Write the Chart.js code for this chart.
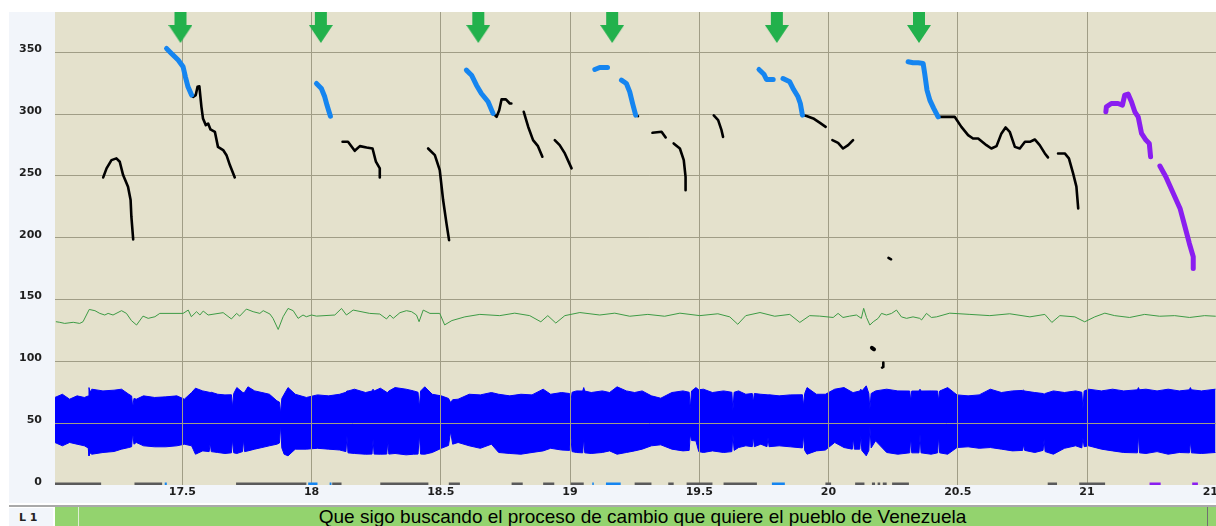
<!DOCTYPE html>
<html><head><meta charset="utf-8">
<script src="https://cdn.jsdelivr.net/npm/chart.js@4.4.1/dist/chart.umd.min.js"></script>
<style>
html,body{margin:0;padding:0;background:#fff;overflow:hidden;width:1216px;height:526px;position:relative;}
#panel{position:absolute;left:9px;top:12px;width:1207px;height:491px;background:#f2f5fa;}
#wrap{position:absolute;left:0;top:0;width:1250px;height:506px;}
#sep{position:absolute;left:9px;top:505px;width:1207px;height:2px;background:#a9a9a9;}
#tierlab{position:absolute;left:9px;top:508px;width:44px;height:18px;background:#f2f5fa;font:bold 11px "DejaVu Sans";color:#222;}
#tierlab span{position:absolute;left:10px;top:3px;}
#tier{position:absolute;left:55px;top:507px;width:1161px;height:19px;background:#93d36e;overflow:hidden;}
#tier .v1{position:absolute;left:23px;top:0;width:1px;height:100%;background:#dfeed5;}
#tier .v2{position:absolute;left:1152px;top:0;width:1px;height:100%;background:#707070;}
#tier .txt{position:absolute;left:23px;width:1129px;text-align:center;top:-1px;font:19px "Liberation Sans";line-height:22px;white-space:nowrap;color:#000;}
</style>
</head><body>
<div id="panel"></div>
<div id="wrap"><canvas id="c" width="1250" height="506"></canvas></div>
<div id="sep"></div>
<div id="tierlab"><span>L 1</span></div>
<div id="tier"><div class="v1"></div><div class="v2"></div><div class="txt">Que sigo buscando el proceso de cambio que quiere el pueblo de Venezuela</div></div>
<script>
// ---- axis ticks ----
const xTicks = [17.5,18,18.5,19,19.5,20,20.5,21,21.5];
const yTicks = [0,50,100,150,200,250,300,350];

// ---- arrows (marked syllables) ----
const arrowTimes = [17.493,18.036,18.645,19.163,19.800,20.350];
const arrowLevel = 369.7;

// ---- pitch contours [time, Hz] ----
const f0_a = [[17.194,248.8],[17.207,256.1],[17.226,262.8],[17.245,264.2],[17.258,261.5],[17.271,250.7],[17.290,241.3],[17.300,230.5],[17.303,217.0],[17.310,198.7]];
const f0_b_blue = [[17.439,353.1],[17.458,349.1],[17.484,343.7],[17.503,338.3],[17.512,330.2],[17.522,322.1],[17.536,315.4]];
const f0_b = [[17.536,315.4],[17.542,314.0],[17.552,315.4],[17.559,322.1],[17.566,322.5],[17.574,305.9],[17.580,296.5],[17.591,291.1],[17.600,292.4],[17.609,287.6],[17.626,285.7],[17.638,273.5],[17.658,270.9],[17.671,266.8],[17.684,258.8],[17.703,248.8]];
const f0_c_blue = [[18.019,324.8],[18.038,320.7],[18.051,314.0],[18.060,307.1],[18.073,298.3]];
const f0_d = [[18.120,277.6],[18.141,277.6],[18.167,270.3],[18.187,274.1],[18.213,273.0],[18.236,272.2],[18.249,261.5],[18.264,256.1],[18.264,248.8]];
const f0_e = [[18.451,272.2],[18.477,266.8],[18.496,254.7],[18.509,230.5],[18.522,211.6],[18.532,198.1]];
const f0_f_blue = [[18.599,335.6],[18.619,331.5],[18.638,323.4],[18.657,316.7],[18.683,310.0],[18.702,300.6]];
const f0_f = [[18.702,300.6],[18.716,297.8],[18.726,303.2],[18.735,311.9],[18.752,311.9],[18.767,308.6],[18.773,308.6]];
const f0_g = [[18.821,301.9],[18.838,289.8],[18.857,279.0],[18.876,274.1],[18.893,265.5]];
const f0_h = [[18.941,279.0],[18.960,274.9],[18.980,268.2],[19.006,256.1]];
const f0_i_blue = [[19.096,336.1],[19.115,337.7],[19.145,337.7]];
const f0_j_blue = [[19.199,327.5],[19.218,324.8],[19.231,318.0],[19.242,308.6],[19.254,299.2]];
const f0_j = [[19.254,299.2],[19.263,298.4]];
const f0_k = [[19.319,284.9],[19.354,285.7],[19.370,281.1]];
const f0_l = [[19.401,276.3],[19.425,272.2],[19.440,262.8],[19.447,249.3],[19.447,238.5]];
const f0_m = [[19.556,298.9],[19.573,295.1],[19.586,287.0],[19.592,281.6]];
const f0_n1_blue = [[19.731,336.1],[19.750,332.3],[19.760,328.0],[19.786,328.0]];
const f0_n2_blue = [[19.824,328.8],[19.850,326.1],[19.865,319.9],[19.882,314.0],[19.891,308.6],[19.899,299.2]];
const f0_n = [[19.899,299.2],[19.915,298.4],[19.941,296.5],[19.967,292.9],[19.989,289.7]];
const f0_o = [[20.015,279.0],[20.037,276.8],[20.056,272.2],[20.076,274.9],[20.095,279.0]];
const f0_p_blue = [[20.308,342.3],[20.327,341.5],[20.347,341.5],[20.366,341.0],[20.372,332.9],[20.381,319.4],[20.392,311.3],[20.407,304.6],[20.424,297.8]];
const f0_p = [[20.424,297.8],[20.443,297.8],[20.488,297.8],[20.514,289.7],[20.540,283.0],[20.559,280.3],[20.579,280.3],[20.611,274.9],[20.630,272.2],[20.650,274.1],[20.669,284.4],[20.685,289.2],[20.701,285.7],[20.721,273.5],[20.740,272.2],[20.760,277.6],[20.779,277.6],[20.798,279.5],[20.817,274.9],[20.837,268.2],[20.849,265.0]];
const f0_q = [[20.888,268.2],[20.914,268.2],[20.930,264.2],[20.946,252.3],[20.959,241.3],[20.966,223.7]];
const f0_r1_purple = [[21.073,301.9],[21.075,305.9],[21.094,308.6],[21.120,308.6],[21.137,307.3],[21.146,315.4],[21.159,316.2],[21.172,310.0],[21.185,301.9],[21.198,297.8],[21.211,284.4],[21.228,279.0],[21.241,276.3],[21.246,265.5]];
const f0_r2_purple = [[21.282,258.0],[21.305,249.3],[21.334,235.8],[21.360,223.7],[21.379,208.9],[21.396,195.4],[21.411,184.6],[21.411,175.2]];
const f0_s1 = [[20.232,183.8],[20.242,182.6]];
const f0_s2 = [[20.168,111.0],[20.176,109.8]];
const f0_s3 = [[20.212,99.0],[20.212,95.5],[20.207,95.0]];

// ---- baseline marks [start, end] ----
const baseGray = [[17.007,17.186],[17.315,17.422],[17.708,17.980],[18.080,18.116],[18.266,18.452],[18.531,18.574],[18.774,18.817],[18.896,18.939],[19.003,19.053],[19.250,19.315],[19.380,19.401],[19.451,19.551],[19.594,19.723],[19.988,20.010],[20.103,20.139],[20.168,20.180],[20.190,20.200],[20.210,20.225],[20.246,20.311],[20.848,20.884],[20.970,21.070]];
const baseBlue = [[17.432,17.440],[17.987,18.023],[18.070,18.077],[19.086,19.092],[19.139,19.196],[19.781,19.831]];
const basePurple = [[21.242,21.285],[21.407,21.429]];
const baseLevel = 1.0;

// ---- intensity (green) ----
const intT = [17.011,17.026,17.045,17.078,17.103,17.116,17.140,17.162,17.181,17.200,17.213,17.232,17.265,17.284,17.303,17.323,17.348,17.368,17.394,17.413,17.503,17.523,17.535,17.555,17.568,17.581,17.600,17.658,17.690,17.710,17.722,17.748,17.774,17.800,17.813,17.839,17.851,17.871,17.890,17.909,17.929,17.948,17.967,17.980,18.000,18.019,18.090,18.116,18.135,18.161,18.225,18.264,18.290,18.303,18.316,18.342,18.367,18.387,18.406,18.416,18.432,18.458,18.496,18.515,18.543,18.593,18.651,18.728,18.786,18.844,18.887,18.914,18.945,18.980,19.038,19.115,19.173,19.231,19.301,19.366,19.425,19.502,19.572,19.618,19.649,19.680,19.735,19.792,19.850,19.889,19.927,19.966,20.018,20.037,20.056,20.082,20.108,20.127,20.136,20.147,20.160,20.173,20.192,20.205,20.224,20.244,20.263,20.282,20.302,20.327,20.353,20.360,20.379,20.398,20.418,20.469,20.547,20.624,20.701,20.779,20.837,20.864,20.895,20.953,20.991,21.030,21.069,21.107,21.165,21.223,21.281,21.339,21.397,21.455,21.498];
const intV = [132.1,131.6,130.7,131.6,130.7,132.1,142.0,141.0,138.8,137.5,138.8,137.5,141.0,138.8,133.0,129.4,136.6,134.8,136.1,138.8,138.8,141.5,136.1,140.2,137.5,140.7,137.5,139.4,134.3,138.8,136.6,142.3,140.2,138.8,141.0,138.3,134.8,125.8,136.1,142.8,141.0,134.8,137.5,136.1,137.5,136.6,137.5,142.8,137.5,141.5,138.8,138.3,134.3,137.5,134.8,139.4,141.0,140.2,137.5,132.1,141.5,138.8,138.8,129.5,133,136,138,137,139,137,132,137,131,137,139.5,137.5,139,136.5,138,136.5,139,137,138.5,136,130,137,139.5,136.5,138,131.5,137,136.6,135.5,138.8,135.5,136.6,137.5,134.8,142.9,135.5,129.4,132,134.8,138.8,137.5,138.8,141.5,136,134.8,136,134.8,133.5,138.8,135.5,136,139,138,137,138.5,136,138,131.5,137,136,132,136,139,137,135.5,138,136.5,137,135.5,137,136.5];

// ---- waveform envelope (centred on 50): time, upper, lower ----
const wfT = [17.007,17.036,17.064,17.093,17.121,17.136,17.139,17.143,17.150,17.193,17.236,17.265,17.293,17.304,17.308,17.313,17.322,17.350,17.393,17.436,17.479,17.508,17.536,17.551,17.579,17.604,17.608,17.612,17.637,17.665,17.690,17.694,17.699,17.711,17.733,17.737,17.741,17.754,17.780,17.808,17.837,17.866,17.876,17.880,17.885,17.894,17.909,17.937,17.980,18.023,18.066,18.109,18.133,18.137,18.141,18.166,18.209,18.234,18.238,18.242,18.266,18.291,18.295,18.299,18.323,18.366,18.395,18.412,18.417,18.422,18.438,18.467,18.502,18.530,18.538,18.546,18.567,18.610,18.653,18.696,18.724,18.767,18.810,18.853,18.896,18.925,18.967,18.998,19.003,19.008,19.025,19.049,19.053,19.057,19.082,19.125,19.153,19.182,19.218,19.250,19.279,19.315,19.351,19.394,19.437,19.461,19.465,19.470,19.487,19.498,19.516,19.551,19.594,19.626,19.630,19.635,19.652,19.680,19.705,19.709,19.713,19.738,19.762,19.766,19.770,19.809,19.852,19.899,19.903,19.908,19.917,19.953,19.988,20.024,20.060,20.092,20.096,20.100,20.121,20.125,20.129,20.146,20.156,20.160,20.165,20.182,20.225,20.268,20.314,20.318,20.322,20.350,20.354,20.358,20.397,20.422,20.426,20.430,20.461,20.497,20.540,20.583,20.626,20.669,20.712,20.751,20.755,20.759,20.798,20.830,20.834,20.838,20.870,20.913,20.956,20.980,20.984,20.989,21.006,21.056,21.099,21.142,21.195,21.199,21.203,21.228,21.271,21.314,21.357,21.396,21.400,21.404,21.443,21.497];
const wfTop = [70.8,73.4,69.4,72.1,70.8,72,78.8,75,77.5,76.1,76.7,77.5,73.4,72,62.7,70,69.4,72.1,70.8,71.3,72.1,69.4,74.8,78.3,76.1,75,74.8,75,73.4,72.9,73,62.7,74,78.8,75,74.8,75,79.4,76.1,74.8,73.4,68.1,67,57.8,70,73.4,78.8,73.4,70.8,72.9,72.1,73.4,75,76.1,76,77.5,74.8,76,77.5,76,78.3,75,74.8,76,78.8,77.5,76.1,75,62.7,76,79.4,73.4,72.1,70,66.7,69,69.4,73.4,72.9,74.8,73.4,72.1,73.4,72.9,77.5,73.4,74.8,74,66.7,75,76.1,76,78.8,76,74.8,76.1,74.8,79.4,76.1,74.8,76.1,72.1,70.2,74.8,76.1,75,61.3,76,78.8,77,77.5,74.8,76.1,75,60.0,75,76.1,73.4,74,66.7,74,73.4,73,72.9,73,72.1,72.9,73,64.0,74,78.8,73.4,73.4,77.5,78.8,75,74.8,75,76,77.5,76,80.2,74,61.3,74,76.1,77.5,76.1,76,68.1,76,76,77.5,76,76.1,76,68.1,76,78.8,72.9,72.1,72.9,77.5,74.8,76.1,76.5,76.7,76,74.8,74,73.4,74,76.1,74.8,76.1,75,61.3,76,77.5,76.1,77.5,76.1,77,78.8,77,77.5,76.1,77.5,76.1,77,78.8,77,76.1,77.5];
const wfBot = [34.4,31.7,34.4,33.0,31.7,30,23.6,26,24.9,26.3,27.1,29.0,30.3,31,42.5,33,34.4,31.7,30.9,30.9,31.7,33.0,31.7,24.9,27.6,27,34.4,27,26.3,25.5,26,37.1,26,25.5,27,37.1,27,27.6,29.0,30.3,31.7,33.0,34,49.2,30,24.9,23.6,29.0,29.0,29.7,29.0,28.3,27,39.8,26,25.5,24.9,25,37.1,25,24.9,25,35.7,25,25.5,24.4,24.9,25,41.1,25,24.9,26.3,29.7,32,43.3,33,34.4,31.7,29.7,33.0,26.3,25.5,24.9,26.3,27.6,29.7,28.3,28,39.8,27,26.3,26,38.4,26,25.5,26.3,27.6,24.9,26.3,27.6,29.0,31.7,32.5,29.0,27.6,28,41.1,36,35.7,27,26.3,27.6,26.3,27,41.1,28,30.3,31.7,31,39.8,31,33.0,31,38.4,31,31.7,30.9,30,41.1,28,24.9,27.6,28.3,34.4,30.3,29,38.4,29,29,39.8,28,23.6,28,47.8,30,35.7,26.3,24.9,26,38.4,26,26,41.1,26,24.9,26,39.8,26,24.9,30.3,30.9,29.7,30.3,29.0,27.6,28,33.0,28,26.3,28,37.1,27,24.9,29.7,31.7,30,38.4,31,31.7,29.0,27.6,26.3,26,41.1,26,25.5,27.0,24.9,26.3,26,35.7,26,25.5,26.3];

// ---- colours ----
const BLACK = '#000000', BLUE = '#1585f0', PURPLE = '#8a1ef0', GRAY = '#5a5a5a';

// arrow marker image
const arrowImg = document.createElement('canvas');
arrowImg.width = 24; arrowImg.height = 32;
(function(){const a = arrowImg.getContext('2d'); a.fillStyle = '#22b14c';
 a.fillRect(6,0,12,14); a.beginPath(); a.moveTo(0,13); a.lineTo(24,13); a.lineTo(12,31); a.closePath(); a.fill();})();

function curve(pts, color, w){
  return {data: pts.map(p => ({x:p[0], y:p[1]})), showLine:true, borderColor:color, backgroundColor:color,
    borderWidth:w, pointRadius:0, borderCapStyle:'round', borderJoinStyle:'round', fill:false, tension:0};
}
function segs(list, color, w){
  const d = [];
  list.forEach(s => { d.push({x:s[0], y:baseLevel}, {x:s[1], y:baseLevel}, {x:s[1], y:null}); });
  return {data:d, showLine:true, borderColor:color, borderWidth:w, pointRadius:0, fill:false, spanGaps:false, borderCapStyle:'butt'};
}

const datasets = [];
datasets.push({label:'arrows', data: arrowTimes.map(t => ({x:t, y:arrowLevel})), pointStyle: arrowImg, pointRadius: 5, showLine:false});
const blackCurves = [f0_a,f0_b,f0_d,f0_e,f0_f,f0_g,f0_h,f0_j,f0_k,f0_l,f0_m,f0_n,f0_o,f0_p,f0_q,f0_s1,f0_s3];
const blueCurves = [f0_b_blue,f0_c_blue,f0_f_blue,f0_i_blue,f0_j_blue,f0_n1_blue,f0_n2_blue,f0_p_blue];
const purpleCurves = [f0_r1_purple,f0_r2_purple];
blueCurves.forEach(c => datasets.push(curve(c, BLUE, 5)));
purpleCurves.forEach(c => datasets.push(curve(c, PURPLE, 5)));
blackCurves.forEach(c => datasets.push(curve(c, BLACK, 2.6)));
datasets.push(curve(f0_s2, BLACK, 4));
datasets.push(segs(baseBlue, BLUE, 2.5));
datasets.push(segs(basePurple, PURPLE, 2.5));
datasets.push(segs(baseGray, GRAY, 2.5));
datasets.push({label:'intensity', data: intT.map((t,i)=>({x:t, y:intV[i]})), showLine:true, borderColor:'#3d9b45', borderWidth:1, pointRadius:0, fill:false});
const wfTopIndex = datasets.length;
datasets.push({label:'wfTop', data: wfT.map((t,i)=>({x:t, y:wfTop[i]})), showLine:true, borderColor:'#0000ff', backgroundColor:'#0000ff', borderWidth:1, pointRadius:0, fill:{value:50}});
datasets.push({label:'wfBot', data: wfT.map((t,i)=>({x:t, y:wfBot[i]})), showLine:true, borderColor:'#0000ff', backgroundColor:'#0000ff', borderWidth:1, pointRadius:0, fill:{value:50}});

const bgPlugin = {id:'bg', beforeDraw(chart){ const a = chart.chartArea, c = chart.ctx; c.save(); c.fillStyle = '#e4e1cc'; c.fillRect(a.left, a.top, a.right-a.left, a.bottom-a.top); c.restore(); }};
const gridOver = {id:'gridOver', afterDatasetDraw(chart, args){ if (args.index === wfTopIndex){ const a = chart.chartArea; const c = chart.ctx; c.save(); c.beginPath(); c.rect(a.left,a.top,a.right-a.left,a.bottom-a.top); c.clip(); chart.scales.x.drawGrid(a); chart.scales.y.drawGrid(a); c.restore(); } }};

const tickFont = {family:'DejaVu Sans', size:11, weight:'bold'};
const chart = new Chart(document.getElementById('c'), {
  type:'scatter',
  data:{datasets},
  options:{
    responsive:false, animation:false, devicePixelRatio:1,
    layout:{padding:{top:12, left:0, right:0, bottom:0}},
    plugins:{legend:{display:false}, tooltip:{enabled:false}},
    elements:{line:{tension:0}},
    scales:{
      x:{type:'linear', min:17.0068, max:21.63,
         afterBuildTicks: s => { s.ticks = xTicks.map(v => ({value:v})); },
         afterFit: s => { s.height = 21; s.paddingLeft = 0; s.paddingRight = 0; },
         ticks:{callback: v => String(v), font:tickFont, color:'#1e1e1e', padding:1, maxRotation:0, autoSkip:false},
         grid:{color:'#a09d86', lineWidth:1, drawTicks:false}, border:{display:false}},
      y:{type:'linear', min:0, max:382.6,
         afterBuildTicks: s => { s.ticks = yTicks.map(v => ({value:v})); },
         afterFit: s => { s.width = 55; s.paddingTop = 0; s.paddingBottom = 0; },
         ticks:{callback: v => String(v), font:tickFont, color:'#1e1e1e', padding:13, labelOffset:-3, autoSkip:false},
         grid:{color: c => c.tick && c.tick.value === 0 ? 'rgba(0,0,0,0)' : '#a09d86', lineWidth:1, drawTicks:false}, border:{display:false}}
    }
  },
  plugins:[bgPlugin, gridOver]
});
// calibrate the time axis so 17.5 s and 21 s land where the reference grid lines are
(function(){
  const a = chart.chartArea;
  const ppu = (1087 - 182.3) / 3.5;
  chart.options.scales.x.min = 17.5 - (182.3 - a.left) / ppu;
  chart.options.scales.x.max = 17.5 + (a.right - 182.3) / ppu;
  chart.update();
})();
</script>
</body></html>
